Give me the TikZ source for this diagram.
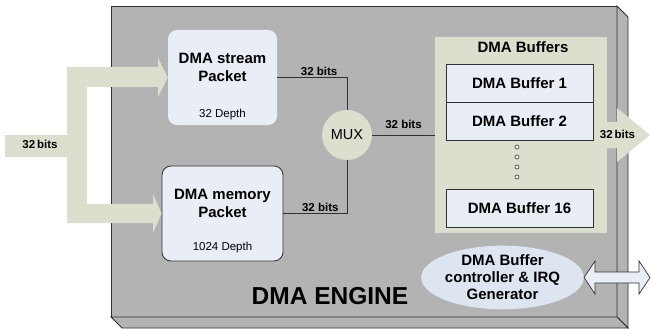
\documentclass[tikz,border=0pt]{standalone}
\usepackage{fontspec}
\setmainfont{Liberation Sans}
\usetikzlibrary{positioning,shapes.geometric}
\definecolor{enginegray}{HTML}{B3B3B3}
\definecolor{busgreen}{HTML}{DCDFCD}
\definecolor{boxblue}{HTML}{E9EEF6}
\definecolor{ovalblue}{HTML}{DCE5F0}
\definecolor{edgegray}{HTML}{303030}

\begin{document}
\begin{tikzpicture}[x=1pt, y=-1pt, >=stealth,
    packet/.style={rounded corners=9pt, fill=boxblue, inner sep=0pt},
    bufbox/.style={draw=edgegray, fill=boxblue, minimum width=147pt, minimum height=38pt, inner sep=0pt, font=\fontsize{15}{17}\selectfont\bfseries},
    title/.style={align=center, font=\fontsize{15}{18.5}\selectfont\bfseries},
    depth/.style={font=\fontsize{11.5}{13}\selectfont},
    bitlbl/.style={font=\fontsize{11.5}{13}\selectfont\bfseries, inner sep=1pt},
    wire/.style={draw=edgegray, line width=0.8pt}]

\useasboundingbox (0,0) rectangle (651,329);

% Engine box (front, side and bottom faces)
\draw[edgegray, fill=enginegray, line width=0.8pt] (111,6) rectangle (617,317);
\draw[edgegray, fill=enginegray, line width=0.8pt] (617,6) -- (628,17) -- (628,328) -- (617,317) -- cycle;
\draw[edgegray, fill=enginegray, line width=0.8pt] (111,317) -- (617,317) -- (628,328) -- (122,328) -- cycle;
\node[font=\fontsize{24.5}{28}\selectfont\bfseries] (engine) at (330,296.5) {DMA ENGINE};

% Packet blocks
\node[packet, minimum width=109pt, minimum height=95pt] (stream) at (222.5,77.5) {};
\node[title] (streamtitle) at ([yshift=10pt]stream.center) {DMA stream\\Packet};
\node[depth] (streamdepth) at ([yshift=11pt]stream.south) {32 Depth};

\node[packet, draw=edgegray, line width=0.8pt, minimum width=121pt, minimum height=95pt] (mem) at (222.5,213.5) {};
\node[title, font=\fontsize{15}{18}\selectfont\bfseries] (memtitle) at ([yshift=10.5pt]mem.center) {DMA memory\\Packet};
\node[depth] (memdepth) at ([yshift=14pt]mem.south) {1024 Depth};

% Multiplexer
\node[circle, fill=busgreen, minimum size=50pt, inner sep=0pt, font=\fontsize{14.5}{16}\selectfont] (mux) at (347,135) {MUX};

% Buffer bank
\node[fill=busgreen, minimum width=172pt, minimum height=196pt, inner sep=0pt] (bufs) at (521,135) {};
\node[font=\fontsize{15}{17}\selectfont\bfseries] (bufstitle) at (523,47) {DMA Buffers};
\node[bufbox] (buf1) at (519.5,83) {DMA Buffer 1};
\node[bufbox] (buf2) at (519.5,121) {DMA Buffer 2};
\node[bufbox] (buf16) at (519.5,208) {DMA Buffer 16};
\foreach \y in {147,157,167,177} {
    \draw[edgegray, fill=white, line width=0.6pt] (517,\y) circle (2pt);
}

% Controller
\node[ellipse, fill=ovalblue, minimum width=161pt, minimum height=61pt, inner sep=0pt, align=center, font=\fontsize{15}{17}\selectfont\bfseries] (ctrl) at (502.5,277.5) {DMA Buffer\\controller \& IRQ\\Generator};

% Input bus
\fill[busgreen] (5,135) -- (67,135) -- (67,67) -- (158,67) -- (158,58) -- (stream.west) -- (158,97) -- (158,87) -- (87,87)
    -- (87,204) -- (153,204) -- (153,194) -- (mem.west) -- (153,233) -- (153,223) -- (67,223) -- (67,157) -- (5,157) -- cycle;
\node[bitlbl] (inbits) at (40,144) {32\,bits};

% Output bus
\fill[busgreen] (607,122) -- (617,122) -- (617,108) -- (650,135) -- (617,162) -- (617,148) -- (607,148) -- cycle;
\node[bitlbl] (outbits) at (617.5,134) {32\,bits};

% Controller port
\draw[edgegray, fill=boxblue, line width=0.7pt] (ctrl.east) -- (595,261) -- (595,272) -- (639,272) -- (639,261) -- (650,277.5)
    -- (639,294) -- (639,283) -- (595,283) -- (595,294) -- cycle;

% Datapath wires
\draw[wire] (stream.east) -| node[bitlbl, pos=0.3, above] (bitsa) {32 bits} (mux.north);
\draw[wire] (mem.east) -| node[bitlbl, pos=0.29, above] (bitsb) {32 bits} (mux.south);
\draw[wire] (mux.east) -- node[bitlbl, midway, above=5pt] (bitsc) {32 bits} (bufs.west);

\end{tikzpicture}
\end{document}
